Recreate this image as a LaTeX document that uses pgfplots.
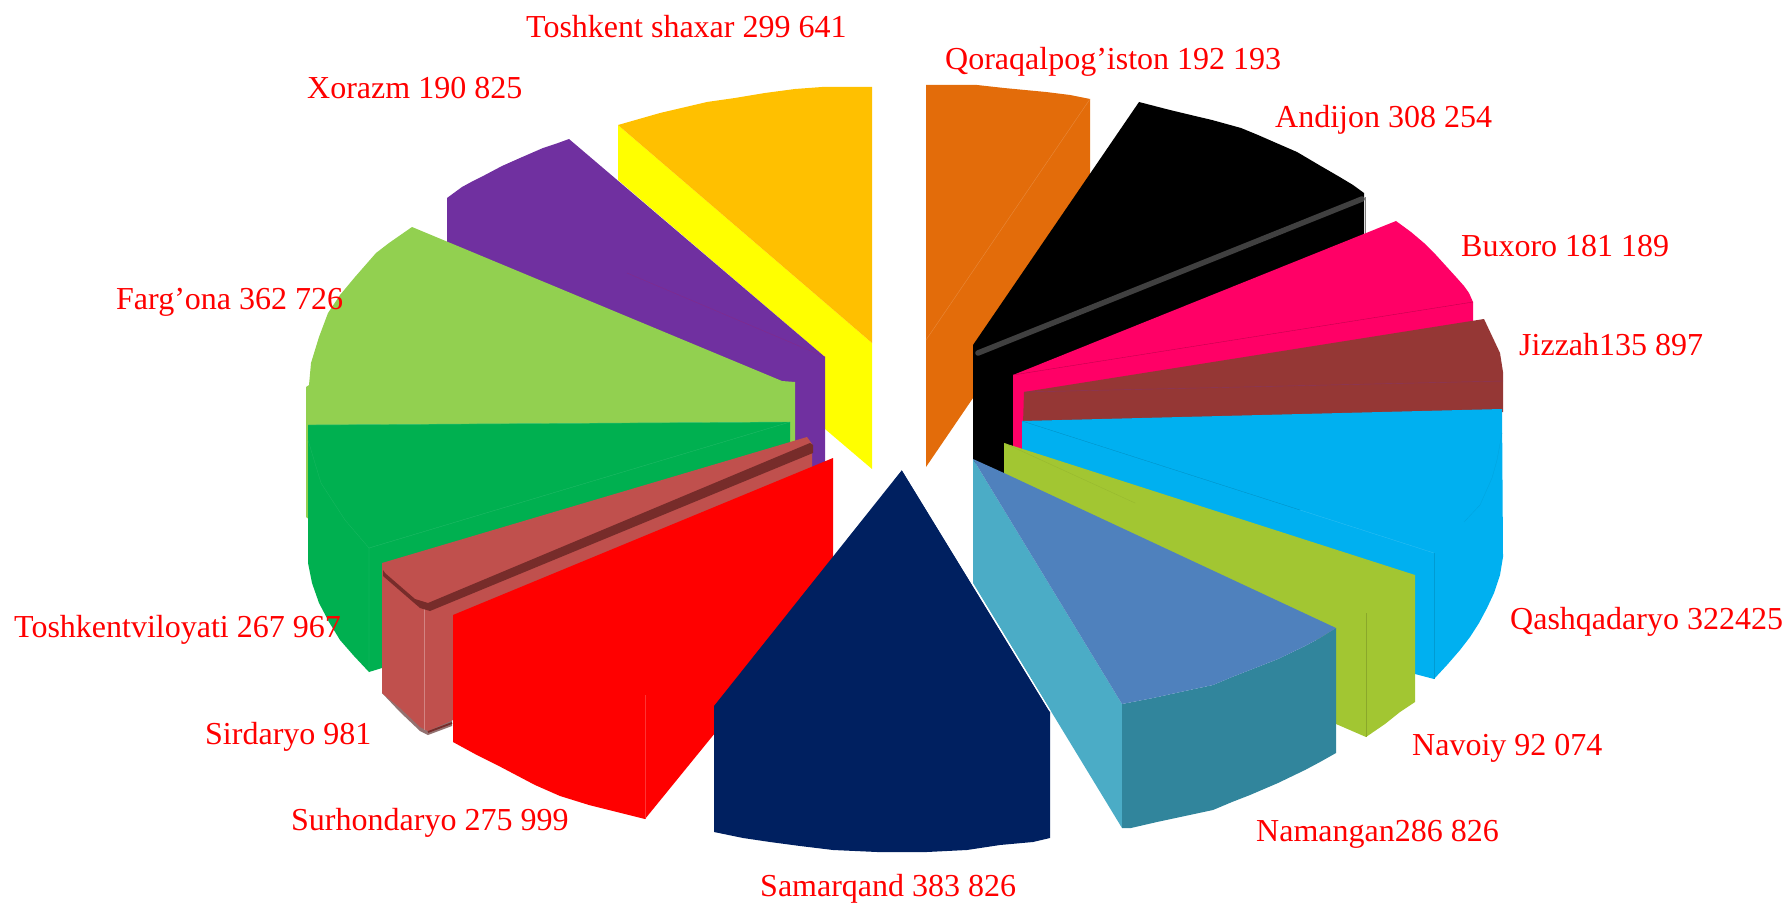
\documentclass[border=0pt]{standalone}
\usepackage{pgfplots}
\pgfplotsset{compat=1.18}
\usepackage{fontspec}
\setmainfont{Liberation Serif}
\definecolor{cYellow}{HTML}{FFFF00}
\definecolor{cRed}{HTML}{FF0000}
\definecolor{cOrange}{HTML}{E36C0A}
\definecolor{cPink}{HTML}{FF0066}
\definecolor{cBrown}{HTML}{953735}
\definecolor{cBlue}{HTML}{00B0F0}
\definecolor{cOlive}{HTML}{A2C632}
\definecolor{cTop}{HTML}{4F81BD}
\definecolor{cSide}{HTML}{4BACC6}
\definecolor{cFront}{HTML}{31859C}
\definecolor{cNavy}{HTML}{002060}
\definecolor{cGold}{HTML}{FFC000}
\definecolor{cPurple}{HTML}{7030A0}
\definecolor{cLime}{HTML}{92D050}
\definecolor{cGreen}{HTML}{00B050}
\definecolor{cSir}{HTML}{C0504D}
\definecolor{cSirD}{HTML}{772C2A}
\newcommand{\slab}[3]{\node[anchor=west,inner sep=0pt,text=cRed,font=\fontsize{32}{35}\selectfont] at (axis cs:#1,#2) {#3};}
\begin{document}
\begin{tikzpicture}
\useasboundingbox (0,0) rectangle (1785pt,904pt);
\begin{axis}[at={(0,0)},anchor=south west,scale only axis,width=1785pt,height=904pt,
  xmin=0,xmax=1785,ymin=0,ymax=904,y dir=reverse,hide axis,clip=false,no markers,
  every axis plot/.append style={line join=round}]
% Qoraqalpog'iston
\addplot[fill=cOrange,draw=none] coordinates {(926,85)(977,85)(1004,88)(1046,92)(1070,95)(1090,99)(1090,240)(973,398)(926,467)} -- cycle;
\addplot[draw=cOrange!80!white,line width=0.4pt] coordinates {(1090,99)(926,340)};
% Andijon
\addplot[fill=black,draw=none] coordinates {(973,345)(1139,102)(1170,110)(1195,116)(1212,120)(1241,128)(1258,135)(1274,142)(1297,152)(1319,165)(1338,176)(1353,185)(1364,193)(1364,240)(1150,400)(1004,480)(973,462)} -- cycle;
\addplot[draw=gray,line width=1.5pt] coordinates {(1365.5,197)(1365.5,234)};
\addplot[draw=black!75,line width=5.5pt,line cap=round] coordinates {(978,353)(1362,199)};
% Buxoro
\addplot[fill=cPink,draw=none] coordinates {(1013,375)(1396,221)(1411,232)(1424,243)(1436,255)(1446,266)(1456,277)(1464,286)(1469,293)(1473,302)(1473,330)(1030,430)(1030,460)(1013,450)} -- cycle;
\addplot[draw=cPink!75!black,line width=0.35pt] coordinates {(1013,375)(1473,302)};
% Jizzah
\addplot[fill=cBrown,draw=none] coordinates {(1024,392)(1484,319)(1492,336)(1500,353)(1503,372)(1503,412)(1023,424)} -- cycle;
\addplot[draw=cPurple!40!cBrown,line width=0.4pt] coordinates {(1024,392)(1503,381)};
% Qashqadaryo
\addplot[fill=cBlue,draw=none] coordinates {(1022,421)(1502,409)(1503,557)(1500,575)(1494,593)(1487,608)(1479,623)(1470,637)(1460,650)(1447,665)(1434,679)(1415,674)(1415,600)(1022,450)} -- cycle;
\addplot[draw=cBlue!80!black,line width=0.3pt] coordinates {(1022,421)(1300,510)};
\addplot[draw=cBlue!80!white,line width=0.3pt] coordinates {(1300,510)(1434,553)};
\addplot[draw=cBlue!88!black,line width=0.3pt] coordinates {(1434,553)(1434,679)};
\addplot[draw=cBlue!92!black,line width=0.3pt] coordinates {(1502,433)(1497,460)(1492,478)(1480,505)(1464,522)};
% Navoiy
\addplot[fill=cOlive,draw=none] coordinates {(1004,443)(1415,575)(1415,702)(1400,712)(1385,724)(1366,737)(1336,724)(1336,650)(1004,480)} -- cycle;
\addplot[draw=cOlive!92!black,line width=0.3pt] coordinates {(1004,443)(1135,503)};
\addplot[draw=cOlive!85!black,line width=0.3pt] coordinates {(1366,613)(1366,737)};
% Namangan
\addplot[fill=cSide,draw=none] coordinates {(973,459)(1122,704)(1122,828)(973,583)} -- cycle;
\addplot[fill=cFront,draw=none] coordinates {(1122,704)(1153,698)(1185,691)(1213,685)(1232,677)(1250,670)(1278,659)(1305,646)(1320,638)(1336,628)(1336,753)(1320,762)(1305,770)(1278,783)(1250,795)(1232,802)(1213,810)(1185,816)(1157,822)(1131,828)(1122,828)} -- cycle;
\addplot[fill=cTop,draw=none] coordinates {(973,459)(1004,473)(1336,628)(1320,638)(1305,646)(1278,659)(1250,670)(1232,677)(1213,685)(1185,691)(1153,698)(1122,704)} -- cycle;
% Toshkent shaxar
\addplot[fill=cYellow,draw=none] coordinates {(618,125)(872,343)(872,469)(825,429)(825,357)(618,180)} -- cycle;
\addplot[fill=cGold,draw=none] coordinates {(618,125)(660,113)(707,102)(735,98)(765,93)(795,89)(822,87)(872,87)(872,343)} -- cycle;
% Xorazm
\addplot[fill=cPurple,draw=none] coordinates {(447,198)(462,187)(473,181)(485,175)(502,166)(520,158)(543,148)(558,143)(569,139)(825,357)(825,466)(790,470)(600,320)(447,300)} -- cycle;
\addplot[draw=cPurple!85!red,line width=0.35pt] coordinates {(627,273)(825,357)};
% Farg'ona
\addplot[fill=cLime,draw=none] coordinates {(412,227)(782,381)(795,382)(795,445)(310,520)(306,517)(306,387)(309,385)(311,363)(319,337)(328,313)(340,295)(355,277)(376,253)(389,243)} -- cycle;
% Toshkent viloyati
\addplot[fill=cGreen,draw=none] coordinates {(308,425)(790,422)(790,445)(480,640)(382,668)(369,672)(354,656)(340,640)(329,622)(319,603)(312,583)(308,563)} -- cycle;
\addplot[draw=cGreen!80!white,line width=0.4pt] coordinates {(308,425)(790,422)};
\addplot[draw=cGreen!85!white,line width=0.3pt] coordinates {(790,422)(369,548)(369,672)};
\addplot[draw=cGreen!90!white,line width=0.3pt] coordinates {(308,440)(321,483)(345,520)(369,548)};
% Sirdaryo
\addplot[fill=gray!70!cSir,draw=none] coordinates {(382,693)(400,712)(420,731)(428,735)(452,726)(452,715)(382,690)} -- cycle;
\addplot[fill=cSir,draw=none] coordinates {(382,563)(807,437)(812,444)(812,500)(453,720)(428,731)(420,727)(400,708)(382,693)} -- cycle;
\addplot[draw=cSir!70!white,line width=0.5pt] coordinates {(424,607)(424,730)};
\addplot[fill=cSirD,draw=none] coordinates {(383,570)(385,573)(415,599)(428,603)(810,443)(813,445)(813,453)(430,611)(420,608)(383,576)} -- cycle;
\addplot[draw=cSirD,line width=1.8pt] coordinates {(428,732)(452,723)};
% Surhondaryo
\addplot[fill=cRed,draw=none] coordinates {(833,458)(453,615)(453,742)(475,754)(497,765)(535,785)(560,796)(589,805)(645,819)(715,733)(760,680)(833,590)} -- cycle;
\addplot[draw=cRed!80!white,line width=0.35pt] coordinates {(645,695)(645,819)};
% Samarqand
\addplot[fill=cNavy,draw=none] coordinates {(902,470)(714,706)(714,832)(743,838)(770,842)(800,846)(833,850)(877,852)(927,852)(967,850)(1000,845)(1033,842)(1050,838)(1050,712)} -- cycle;
\addplot[draw=white,line width=1.2pt] coordinates {(902,469)(1050,711)};
% Labels
\slab{526}{27}{Toshkent shaxar 299 641}
\slab{945}{62}{Qoraqalpog’iston 192 193}
\slab{1275}{120}{Andijon 308 254}
\slab{1461}{246}{Buxoro 181 189}
\slab{1519}{345}{Jizzah135 897}
\slab{1510}{622}{Qashqadaryo 322425}
\slab{1412}{748}{Navoiy 92 074}
\slab{1256}{834}{Namangan286 826}
\slab{760}{889}{Samarqand 383 826}
\slab{291}{823}{Surhondaryo 275 999}
\slab{205}{737}{Sirdaryo 981}
\slab{14}{630}{Toshkentviloyati 267 967}
\slab{116}{302}{Farg’ona 362 726}
\slab{307}{88}{Xorazm 190 825}
\end{axis}
\end{tikzpicture}
\end{document}
